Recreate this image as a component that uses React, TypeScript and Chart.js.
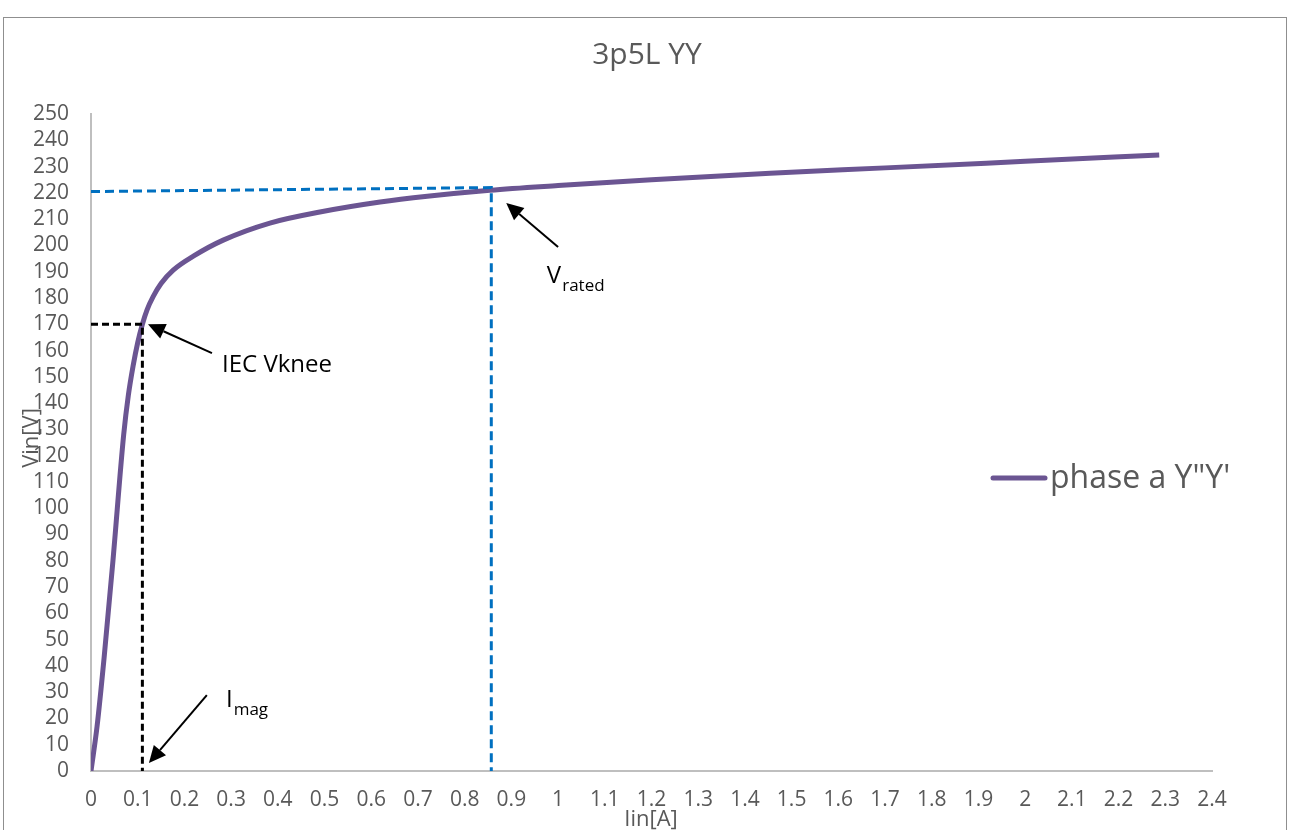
import React, { useEffect, useRef } from "react";
import { Chart, registerables } from "chart.js";

Chart.register(...registerables);

const chartTitle = "3p5L YY";
const seriesName = `phase a Y"Y'`;
const xAxisTitle = "Iin[A]";
const yAxisTitle = "Vin[V]";

// Main magnetisation curve
const currentA = [0, 0.013, 0.028, 0.047, 0.07, 0.08, 0.09, 0.1, 0.11, 0.12, 0.133, 0.15, 0.176, 0.22, 0.283, 0.383, 0.49, 0.619, 0.72, 0.854, 1.0, 1.2, 1.454, 1.7, 2.0, 2.287];
const voltageV = [0, 17, 43, 80, 128, 143, 154, 163, 170, 175.5, 180.5, 185.5, 190.6, 196, 202, 208.5, 212.7, 216.5, 218.7, 221, 222.8, 225, 227.5, 229.5, 232, 234.4];

// Dashed guide lines
const kneeGuideX = [0, 0.11, 0.11];
const kneeGuideY = [170, 170, 0];
const ratedGuideX = [0, 0.857, 0.857];
const ratedGuideY = [220.5, 222, 0];

// Axis ticks
const xTickValues = [0, 0.1, 0.2, 0.3, 0.4, 0.5, 0.6, 0.7, 0.8, 0.9, 1, 1.1, 1.2, 1.3, 1.4, 1.5, 1.6, 1.7, 1.8, 1.9, 2, 2.1, 2.2, 2.3, 2.4];
const xTickLabels = ["0", "0.1", "0.2", "0.3", "0.4", "0.5", "0.6", "0.7", "0.8", "0.9", "1", "1.1", "1.2", "1.3", "1.4", "1.5", "1.6", "1.7", "1.8", "1.9", "2", "2.1", "2.2", "2.3", "2.4"];
const yTickValues = [0, 10, 20, 30, 40, 50, 60, 70, 80, 90, 100, 110, 120, 130, 140, 150, 160, 170, 180, 190, 200, 210, 220, 230, 240, 250];
const yTickLabels = ["0", "10", "20", "30", "40", "50", "60", "70", "80", "90", "100", "110", "120", "130", "140", "150", "160", "170", "180", "190", "200", "210", "220", "230", "240", "250"];

// Annotations (data coordinates)
const noteTexts = ["IEC Vknee", "V", "I"];
const noteSubs = ["", "rated", "mag"];
const noteLabelX = [0.2805, 0.976, 0.289];
const noteLabelY = [151.8, 185.7, 24.4];
const arrowTailX = [0.259, 1.0, 0.248];
const arrowTailY = [159, 199.4, 28.9];
const arrowTipX = [0.122, 0.889, 0.124];
const arrowTipY = [170, 216.1, 3.0];

const FONT = "'Open Sans', 'Noto Sans', sans-serif";
const GREY = "#595959";
const PURPLE = "#6b5592";

const overlayPlugin = {
  id: "overlay",
  afterDraw(chart: any) {
    const { ctx, scales } = chart;
    const xs = scales.x;
    const ys = scales.y;
    ctx.save();

    // chart frame
    ctx.strokeStyle = "#8f8f8f";
    ctx.lineWidth = 1;
    ctx.strokeRect(3.5, 17.5, 1283, 900);

    // title
    ctx.fillStyle = GREY;
    ctx.font = `30px ${FONT}`;
    ctx.textAlign = "center";
    ctx.textBaseline = "alphabetic";
    ctx.fillText(chartTitle, 647, 64);

    // axis titles
    ctx.font = `22px ${FONT}`;
    ctx.fillText(xAxisTitle, 651, 826);
    ctx.save();
    ctx.translate(38, 438);
    ctx.rotate(-Math.PI / 2);
    ctx.fillText(yAxisTitle, 0, 0);
    ctx.restore();

    // legend
    ctx.strokeStyle = PURPLE;
    ctx.lineWidth = 5;
    ctx.lineCap = "round";
    ctx.beginPath();
    ctx.moveTo(993, 478);
    ctx.lineTo(1045, 478);
    ctx.stroke();
    ctx.fillStyle = GREY;
    ctx.font = `32px ${FONT}`;
    ctx.textAlign = "left";
    ctx.fillText(seriesName, 1050, 488);

    // arrows
    ctx.strokeStyle = "#000";
    ctx.fillStyle = "#000";
    ctx.lineWidth = 2;
    ctx.lineCap = "butt";
    for (let i = 0; i < noteTexts.length; i++) {
      const x1 = xs.getPixelForValue(arrowTailX[i]);
      const y1 = ys.getPixelForValue(arrowTailY[i]);
      const x2 = xs.getPixelForValue(arrowTipX[i]);
      const y2 = ys.getPixelForValue(arrowTipY[i]);
      const ang = Math.atan2(y2 - y1, x2 - x1);
      const hl = 17;
      const hw = 8;
      const bx = x2 - hl * Math.cos(ang);
      const by = y2 - hl * Math.sin(ang);
      ctx.beginPath();
      ctx.moveTo(x1, y1);
      ctx.lineTo(bx, by);
      ctx.stroke();
      ctx.beginPath();
      ctx.moveTo(x2, y2);
      ctx.lineTo(bx + hw * Math.sin(ang), by - hw * Math.cos(ang));
      ctx.lineTo(bx - hw * Math.sin(ang), by + hw * Math.cos(ang));
      ctx.closePath();
      ctx.fill();

      // label
      const lx = xs.getPixelForValue(noteLabelX[i]);
      const ly = ys.getPixelForValue(noteLabelY[i]);
      ctx.font = `24px ${FONT}`;
      ctx.textAlign = "left";
      ctx.fillText(noteTexts[i], lx, ly);
      if (noteSubs[i]) {
        const w = ctx.measureText(noteTexts[i]).width;
        ctx.font = `17px ${FONT}`;
        ctx.fillText(noteSubs[i], lx + w + 1, ly + 8);
      }
    }
    ctx.restore();
  },
};

export default function App() {
  const canvasRef = useRef<HTMLCanvasElement | null>(null);

  useEffect(() => {
    const canvas = canvasRef.current;
    if (!canvas) return;
    const toPts = (xa: number[], ya: number[]) => xa.map((x, i) => ({ x, y: ya[i] }));

    const chart = new Chart(canvas, {
      type: "scatter",
      data: {
        datasets: [
          {
            label: "knee",
            data: toPts(kneeGuideX, kneeGuideY),
            showLine: true,
            borderColor: "#000000",
            borderWidth: 3,
            borderDash: [7, 4],
            pointRadius: 0,
            fill: false,
          },
          {
            label: "rated",
            data: toPts(ratedGuideX, ratedGuideY),
            showLine: true,
            borderColor: "#0070c0",
            borderWidth: 3,
            borderDash: [9, 5],
            pointRadius: 0,
            fill: false,
          },
          {
            label: seriesName,
            data: toPts(currentA, voltageV),
            showLine: true,
            borderColor: PURPLE,
            borderWidth: 5,
            pointRadius: 0,
            cubicInterpolationMode: "monotone",
            fill: false,
          },
        ],
      },
      options: {
        responsive: false,
        animation: false,
        layout: { padding: { top: 114, right: 78, left: 0, bottom: 0 } },
        plugins: {
          legend: { display: false },
          title: { display: false },
          tooltip: { enabled: false },
        },
        scales: {
          x: {
            type: "linear",
            min: 0,
            max: 2.4,
            grid: { display: false, drawTicks: false },
            border: { display: true, color: "#bfbfbf", width: 2 },
            afterBuildTicks: (s: any) => {
              s.ticks = xTickValues.map((v) => ({ value: v }));
            },
            afterFit: (s: any) => {
              s.height = 59;
            },
            ticks: {
              autoSkip: false,
              maxRotation: 0,
              padding: 16,
              color: GREY,
              font: { family: FONT, size: 21 },
              callback: (_v: any, i: number) => xTickLabels[i],
            },
          },
          y: {
            type: "linear",
            min: 0,
            max: 250,
            grid: { display: false, drawTicks: false },
            border: { display: true, color: "#bfbfbf", width: 2 },
            afterBuildTicks: (s: any) => {
              s.ticks = yTickValues.map((v) => ({ value: v }));
            },
            afterFit: (s: any) => {
              s.width = 91;
            },
            ticks: {
              autoSkip: false,
              padding: 22,
              color: GREY,
              font: { family: FONT, size: 21 },
              callback: (_v: any, i: number) => yTickLabels[i],
            },
          },
        },
      },
      plugins: [overlayPlugin],
    });
    return () => chart.destroy();
  }, []);

  return (
    <div style={{ position: "fixed", left: 0, top: 0, width: 1290, height: 830, background: "#fff" }}>
      <canvas ref={canvasRef} width={1290} height={830} />
    </div>
  );
}
